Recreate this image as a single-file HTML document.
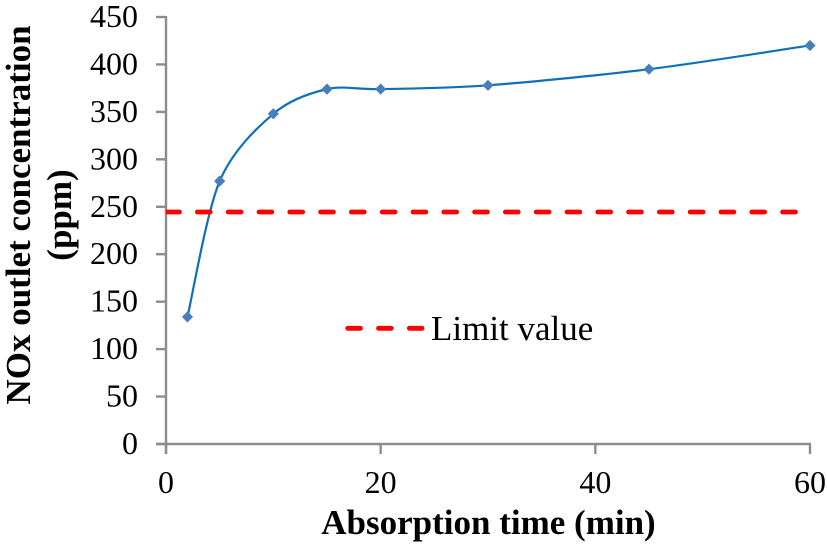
<!DOCTYPE html>
<html>
<head>
<meta charset="utf-8">
<style>
html,body{margin:0;padding:0;background:#fff;}
svg{display:block;}
text{font-family:"Liberation Serif",serif;fill:#000;}
</style>
</head>
<body>
<svg id="chart" width="827" height="545" viewBox="0 0 827 545" xmlns="http://www.w3.org/2000/svg">
<defs><clipPath id="plot-clip"><rect x="166" y="0" width="661" height="545"/></clipPath></defs>
<rect width="827" height="545" fill="#fff"/>
<g id="gridaxes"></g>
<g id="marks"></g>
<text x="488.5" y="534" text-anchor="middle" font-size="35" font-weight="bold">Absorption time (min)</text>
<text transform="translate(30,215) rotate(-90)" text-anchor="middle" font-size="35" font-weight="bold">NOx outlet concentration</text>
<text transform="translate(71,215) rotate(-90)" text-anchor="middle" font-size="35" font-weight="bold">(ppm)</text>
<line x1="347.7" y1="328.3" x2="424" y2="328.3" stroke="#ff0000" stroke-width="4.8" stroke-dasharray="12.8 18" stroke-linecap="round"/>
<text x="431" y="340" font-size="35">Limit value</text>
</svg>
<script>
const times = [2, 5, 10, 15, 20, 30, 45, 60];
const noxValues = [134, 277, 348, 374, 374, 378, 395, 420];
const limitValue = [244.5];
const xTicks = [0, 20, 40, 60];
const yTicks = [0, 50, 100, 150, 200, 250, 300, 350, 400, 450];

const NS = 'http://www.w3.org/2000/svg';
const X = v => 166 + v / 60 * 644;
const Y = v => 444 - v / 450 * 427;
const axes = document.getElementById('gridaxes');
const marks = document.getElementById('marks');
function mk(tag, attrs, parent) {
  const el = document.createElementNS(NS, tag);
  for (const k in attrs) el.setAttribute(k, attrs[k]);
  parent.appendChild(el);
  return el;
}
const AXC = '#8c8c8c';
const AXW = 2.4;
const yAxis = mk('line', {x1: X(0), x2: X(0), y1: Y(450) - 1, y2: Y(0) + 10, stroke: AXC, 'stroke-width': AXW}, axes);


const xAxis = mk('line', {x1: X(0) - 10, x2: X(60) + 1, y1: Y(0), y2: Y(0), stroke: AXC, 'stroke-width': AXW}, axes);


yTicks.forEach(t => {
  const tick = mk('line', {x1: X(0) - 10, x2: X(0), y1: Y(t), y2: Y(t), stroke: AXC, 'stroke-width': AXW}, axes);
  
  
  const label = mk('text', {x: 138, y: Y(t) + 10, 'text-anchor': 'end', 'font-size': 32}, axes);
  label.textContent = t;
  
  
});
xTicks.forEach(t => {
  const tick = mk('line', {x1: X(t), x2: X(t), y1: Y(0), y2: Y(0) + 10, stroke: AXC, 'stroke-width': AXW}, axes);
  
  
  const label = mk('text', {x: X(t), y: 493, 'text-anchor': 'middle', 'font-size': 32}, axes);
  label.textContent = t;
  
  
});

const pts = times.map((t, i) => [X(t), Y(noxValues[i])]);
let d = 'M' + pts[0][0] + ' ' + pts[0][1];
const K = 6.6;
for (let i = 0; i < pts.length - 1; i++) {
  const p0 = pts[Math.max(i - 1, 0)], p1 = pts[i], p2 = pts[i + 1], p3 = pts[Math.min(i + 2, pts.length - 1)];
  const c1 = [p1[0] + (p2[0] - p0[0]) / K, p1[1] + (p2[1] - p0[1]) / K];
  const c2 = [p2[0] - (p3[0] - p1[0]) / K, p2[1] - (p3[1] - p1[1]) / K];
  d += ' C' + c1[0] + ' ' + c1[1] + ' ' + c2[0] + ' ' + c2[1] + ' ' + p2[0] + ' ' + p2[1];
}
const curve = mk('path', {d: d, fill: 'none', stroke: '#0f70b7', 'stroke-width': 2.2}, marks);



const limit = mk('line', {x1: 166.6, x2: 797, y1: Y(limitValue[0]), y2: Y(limitValue[0]), stroke: '#ff0000', 'stroke-width': 4.8, 'stroke-dasharray': '12.8 18', 'stroke-linecap': 'round', 'clip-path': 'url(#plot-clip)'}, marks);



pts.forEach(p => {
  const r = 5.6;
  const dot = mk('polygon', {points: [[p[0], p[1] - r], [p[0] + r, p[1]], [p[0], p[1] + r], [p[0] - r, p[1]]].join(' '), fill: '#4a7ebb'}, marks);
  
  
});
</script>
</body>
</html>
